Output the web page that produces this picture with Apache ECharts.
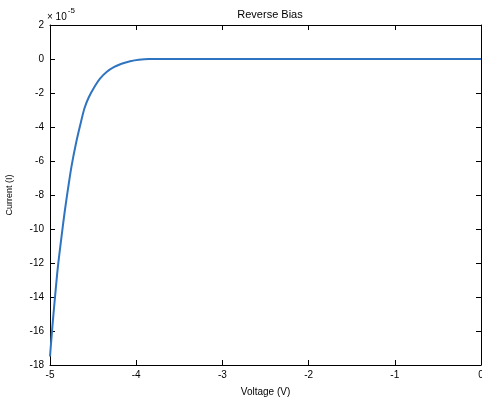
<!DOCTYPE html>
<html><head><meta charset="utf-8">
<script src="https://cdn.jsdelivr.net/npm/echarts@6/dist/echarts.min.js"></script>
<style>html,body{margin:0;padding:0;background:#fff}#c{width:482px;height:404px}</style>
</head><body><div id="c"></div>
<script>
const voltage = [-5, -4.97, -4.94, -4.91, -4.87, -4.83, -4.79, -4.75, -4.70, -4.65, -4.60, -4.55, -4.48, -4.42, -4.34, -4.26, -4.17, -4.07, -3.97, -3.85, -3, -2, -1, 0];
const current = [-17.5, -15.6, -13.9, -12.3, -10.6, -9.0, -7.6, -6.3, -5.0, -3.9, -2.9, -2.25, -1.6, -1.15, -0.75, -0.48, -0.28, -0.13, -0.04, 0, 0, 0, 0, 0];
const titleText = 'Reverse Bias';
const xName = 'Voltage (V)';
const yName = 'Current (I)';
const font = 'Liberation Sans, Arial, sans-serif';

const chart = echarts.init(document.getElementById('c'));
const axisCommon = {
  axisLine: {show: true, onZero: false, lineStyle: {color: '#000', width: 1}},
  axisTick: {show: true, inside: true, length: 5, lineStyle: {color: '#000'}},
  splitLine: {show: false}
};
chart.setOption({
  animation: false,
  backgroundColor: '#fff',
  title: {text: titleText, left: 265, textAlign: 'center', top: 4,
    textStyle: {fontFamily: font, fontSize: 11, fontWeight: 'normal', color: '#000'}},
  grid: {left: 50, right: 1, top: 25, bottom: 39, outerBoundsMode: 'none', containLabel: false},
  graphic: [{type: 'text', left: 47, top: 7, style: {
    text: '{a|\u00d7 10}{b|-5}', rich: {
      a: {fontFamily: font, fontSize: 10, fill: '#000', padding: [6,0,0,0]},
      b: {fontFamily: font, fontSize: 8, fill: '#000', padding: [0,0,6,1]}
    }}}],
  xAxis: [
    Object.assign({type: 'value', min: -5, max: 0, interval: 1, position: 'bottom',
      name: xName, nameLocation: 'middle', nameGap: 22,
      nameTextStyle: {fontFamily: font, fontSize: 10, color: '#000'},
      axisLabel: {fontFamily: font, fontSize: 10, color: '#000', margin: 5}}, axisCommon),
    Object.assign({type: 'value', min: -5, max: 0, interval: 1, position: 'top',
      axisLabel: {show: false}}, axisCommon)
  ],
  yAxis: [
    Object.assign({type: 'value', min: -18, max: 2, interval: 2, position: 'left',
      name: yName, nameLocation: 'middle', nameGap: 36, nameRotate: 90,
      nameTextStyle: {fontFamily: font, fontSize: 9, color: '#000'},
      axisLabel: {fontFamily: font, fontSize: 10, color: '#000', margin: 6}}, axisCommon),
    Object.assign({type: 'value', min: -18, max: 2, interval: 2, position: 'right',
      axisLabel: {show: false}}, axisCommon)
  ],
  series: [{
    type: 'line', xAxisIndex: 0, yAxisIndex: 0, showSymbol: false, smooth: 0.3,
    data: voltage.map((v, i) => [v, current[i]]),
    lineStyle: {color: '#2f74c0', width: 2}
  }]
});
</script></body></html>
